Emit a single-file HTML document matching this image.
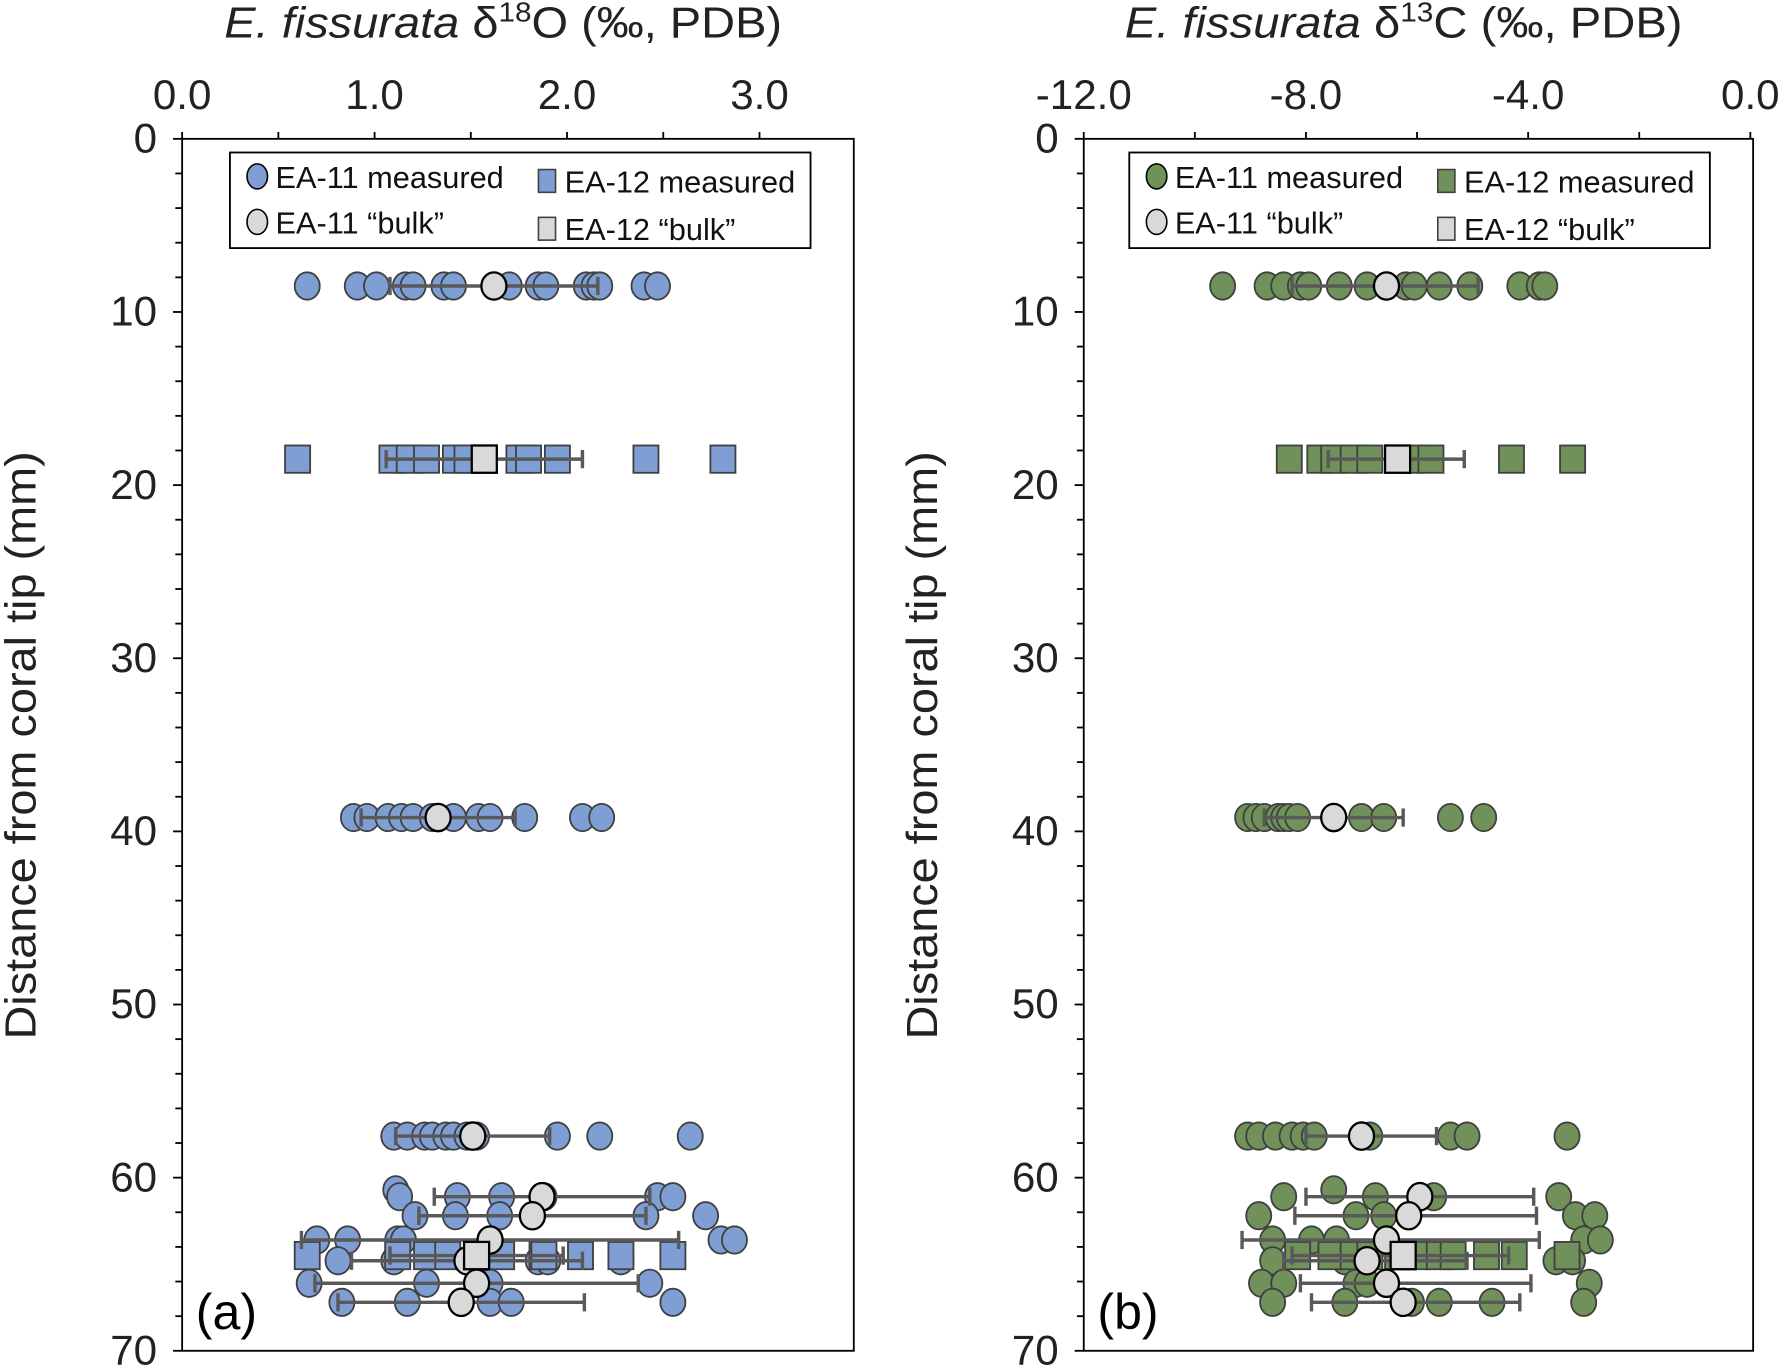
<!DOCTYPE html>
<html><head><meta charset="utf-8"><style>
html,body{margin:0;padding:0;background:#fff}
svg{display:block;font-family:"Liberation Sans",Arial,sans-serif}
</style></head><body>
<svg id="fig" width="1785" height="1369" viewBox="0 0 1568 1203" preserveAspectRatio="none" xmlns="http://www.w3.org/2000/svg"></svg>
<script>
// ---------- Panel (a) d18O data ----------
const aDepths = [8.5, 18.5, 39.2, 57.6, 60.7, 61.1, 62.2, 63.6, 64.5, 64.8, 66.1, 67.2];
const a11Vals = [
 [0.65,0.91,1.01,1.16,1.2,1.36,1.41,1.70,1.85,1.89,2.1,2.14,2.17,2.4,2.47],
 [], [0.89,0.96,1.07,1.14,1.2,1.3,1.41,1.54,1.6,1.78,2.08,2.18],
 [1.1,1.17,1.26,1.3,1.37,1.41,1.48,1.53,1.95,2.17,2.64],
 [1.11], [1.13,1.43,1.66,1.88,2.47,2.55], [1.21,1.42,1.65,2.41,2.72],
 [0.7,0.86,1.12,1.15,2.8,2.87], [], [0.81,1.1,1.85,1.9,2.28],
 [0.66,1.27,1.6,2.43], [0.83,1.17,1.6,1.71,2.55]];
const a12Rows = [1, 8];
const a12Vals = [[0.6,1.09,1.18,1.27,1.42,1.48,1.75,1.8,1.95,2.41,2.81],
 [0.65,1.12,1.27,1.38,1.66,1.87,1.88,2.07,2.28,2.55]];
const a11BulkDepth = [8.5, 39.2, 57.6, 61.1, 62.2, 63.6, 64.8, 66.1, 67.2];
const a11Bulk = [1.62, 1.33, 1.51, 1.87, 1.82, 1.6, 1.48, 1.53, 1.45];
const a11Err = [0.54, 0.4, 0.4, 0.56, 0.59, 0.98, 0.6, 0.84, 0.64];
const a12BulkDepth = [18.5, 64.5];
const a12Bulk = [1.57, 1.53];
const a12Err = [0.51, 0.45];
// ---------- Panel (b) d13C data ----------
const b11Vals = [
 [-9.5,-8.7,-8.4,-8.1,-7.95,-7.4,-6.9,-6.55,-6.2,-6.05,-5.6,-5.05,-4.15,-3.8,-3.7],
 [], [-9.05,-8.9,-8.75,-8.5,-8.4,-8.3,-8.15,-7.0,-6.6,-5.4,-4.8],
 [-9.05,-8.85,-8.55,-8.25,-8.05,-7.85,-6.85,-5.4,-5.1,-3.3],
 [-7.5], [-8.4,-6.75,-5.7,-3.45], [-8.85,-7.1,-6.6,-3.15,-2.8],
 [-8.6,-7.9,-7.45,-3.0,-2.7], [], [-8.6,-7.3,-3.5,-3.2],
 [-8.8,-8.4,-7.1,-6.9,-2.9], [-8.6,-7.3,-6.1,-5.6,-4.65,-3.0]];
const b12Vals = [[-8.3,-7.75,-7.5,-7.15,-6.85,-6.1,-5.75,-4.3,-3.2],
 [-8.15,-7.55,-7.15,-6.85,-6.35,-6.0,-5.6,-5.35,-4.75,-4.25,-3.3]];
const b11Bulk = [-6.55, -7.5, -7.0, -5.95, -6.15, -6.55, -6.9, -6.55, -6.25];
const b11Err = [-8.25, -8.75, -8.0, -8.0, -8.2, -9.15, -8.4, -8.1, -7.9];
const b11ErrHi = [-4.9, -6.25, -5.65, -3.9, -3.85, -3.8, -5.1, -3.95, -4.15];
const b12Bulk = [-6.35, -6.25];
const b12ErrLo = [-7.6, -8.25];
const b12ErrHi = [-5.15, -4.35];

const NS = "http://www.w3.org/2000/svg";
const svg = document.getElementById('fig');
function mk(tag, attrs, parent, text){
  const e = document.createElementNS(NS, tag);
  for (const k in attrs) e.setAttribute(k, attrs[k]);
  if (text !== undefined) e.textContent = text;
  (parent||svg).appendChild(e); return e;
}
const Y0 = 122, Y1 = 1187;
const yS = d => Y0 + d * (Y1 - Y0) / 70;

function panel(cfg){
  const g = mk('g', {});
  
  
  const xS = v => cfg.x0 + (v - cfg.vmin) * (cfg.x1 - cfg.x0) / (cfg.vmax - cfg.vmin);
  const fr = mk('rect', {x:cfg.x0, y:Y0, width:cfg.x1-cfg.x0, height:Y1-Y0, fill:'none', stroke:'#000', 'stroke-width':1.6}, g);
  
  
  for (let v = cfg.vmin; v <= cfg.vmax + 1e-9; v += cfg.minor) {
    mk('line', {x1:xS(v), x2:xS(v), y1:Y0, y2:Y0-6, stroke:'#000','stroke-width':1.6}, g);
  }
  cfg.xLabels.forEach(v => {
    const t = mk('text', {x:xS(v), y:96, 'font-size':37, 'text-anchor':'middle', fill:'#222'}, g, cfg.fmt(v));
    
    
  });
  for (let d = 0; d <= 70; d += 2) {
    mk('line', {x1:cfg.x0, x2:cfg.x0-(d%10===0?8:6), y1:yS(d), y2:yS(d), stroke:'#000','stroke-width':1.6}, g);
  }
  for (let d = 0; d <= 70; d += 10) {
    const t = mk('text', {x:cfg.x0-22, y:yS(d)+12, 'font-size':37, 'text-anchor':'end', fill:'#222'}, g, String(d));
    
    
  }
  const tt = mk('text', {x:cfg.titleX-245, y:33, 'font-size':38, fill:'#222', textLength:490, lengthAdjust:'spacingAndGlyphs'}, g);
  
  
  tt.innerHTML = '<tspan font-style="italic">E. fissurata</tspan> δ<tspan font-size="24" dy="-14">' + cfg.iso + '</tspan><tspan dy="14">' + cfg.el + ' (‰, PDB)</tspan>';
  const yt = mk('text', {x:0, y:0, 'font-size':38, 'text-anchor':'middle', fill:'#222', textLength:517, lengthAdjust:'spacingAndGlyphs', transform:'translate('+(cfg.x0-129)+',655) rotate(-90)'}, g, 'Distance from coral tip (mm)');
  
  
  const pl = mk('text', {x:cfg.x0+12, y:1168, 'font-size':44, fill:'#000'}, g, cfg.label);
  
  

  const circ = (v, d, fill, sw) => {
    const c = mk('ellipse', {cx:xS(v), cy:yS(d), rx:11, ry:12, fill:fill, stroke:sw?'#000':'#404040', 'stroke-width':sw?2:1.6}, g);
    
    
  };
  const sq = (v, d, fill, sw) => {
    const s = mk('rect', {x:xS(v)-11, y:yS(d)-12, width:22, height:24, fill:fill, stroke:sw?'#000':'#404040', 'stroke-width':sw?2:1.6}, g);
    
    
  };
  const err = (lo, hi, d) => {
    const e = mk('g', {stroke:'#595959','stroke-width':3}, g);
    
    
    mk('line', {x1:xS(lo), x2:xS(hi), y1:yS(d), y2:yS(d)}, e);
    mk('line', {x1:xS(lo), x2:xS(lo), y1:yS(d)-8, y2:yS(d)+8}, e);
    mk('line', {x1:xS(hi), x2:xS(hi), y1:yS(d)-8, y2:yS(d)+8}, e);
  };
  cfg.m11.forEach((row, i) => row.forEach(v => circ(v, aDepths[i], cfg.color)));
  cfg.m12.forEach((row, i) => row.forEach(v => sq(v, aDepths[a12Rows[i]], cfg.color)));
  a11BulkDepth.forEach((d, i) => err(cfg.e11lo[i], cfg.e11hi[i], d));
  a12BulkDepth.forEach((d, i) => err(cfg.e12lo[i], cfg.e12hi[i], d));
  a11BulkDepth.forEach((d, i) => circ(cfg.b11[i], d, '#D9D9D9', true));
  a12BulkDepth.forEach((d, i) => sq(cfg.b12[i], d, '#D9D9D9', true));

  const L = cfg.leg;
  const lg = mk('g', {}, g);
  
  
  mk('rect', {x:L, y:134, width:510, height:84, fill:'#fff', stroke:'#000','stroke-width':1.6}, lg);
  const entries = [
    ['c', cfg.color, 'EA-11 measured', L+24, 155],
    ['s', cfg.color, 'EA-12 measured', L+278, 159],
    ['c', '#D9D9D9', 'EA-11 \u201cbulk\u201d', L+24, 195],
    ['s', '#D9D9D9', 'EA-12 \u201cbulk\u201d', L+278, 201]];
  entries.forEach(e => {
    const eg = mk('g', {}, lg);
    
    
    if (e[0]==='c') mk('ellipse', {cx:e[3], cy:e[4], rx:9, ry:11, fill:e[1], stroke:'#000','stroke-width':1.4}, eg);
    else mk('rect', {x:e[3]-7, y:e[4]-10, width:15, height:20, fill:e[1], stroke:'#404040','stroke-width':1.4}, eg);
    mk('text', {x:e[3]+16, y:e[4]+10, 'font-size':27, fill:'#111'}, eg, e[2]);
  });
}

panel({name:'panel-a-d18o', x0:160, x1:750, vmin:0, vmax:3.49, minor:0.5, xLabels:[0,1,2,3],
  fmt:v=>v.toFixed(1), titleX:442, iso:'18', el:'O', label:'(a)', color:'#7F9FD4', leg:202,
  m11:a11Vals, m12:a12Vals, b11:a11Bulk, b12:a12Bulk,
  e11lo:a11Bulk.map((b,i)=>b-a11Err[i]), e11hi:a11Bulk.map((b,i)=>b+a11Err[i]),
  e12lo:a12Bulk.map((b,i)=>b-a12Err[i]), e12hi:a12Bulk.map((b,i)=>b+a12Err[i])});
panel({name:'panel-b-d13c', x0:952, x1:1540, vmin:-12, vmax:0.05, minor:2, xLabels:[-12,-8,-4,0],
  fmt:v=>v.toFixed(1), titleX:1233, iso:'13', el:'C', label:'(b)', color:'#70925A', leg:992,
  m11:b11Vals, m12:b12Vals, b11:b11Bulk, b12:b12Bulk,
  e11lo:b11Err, e11hi:b11ErrHi, e12lo:b12ErrLo, e12hi:b12ErrHi});
</script>
</body></html>
